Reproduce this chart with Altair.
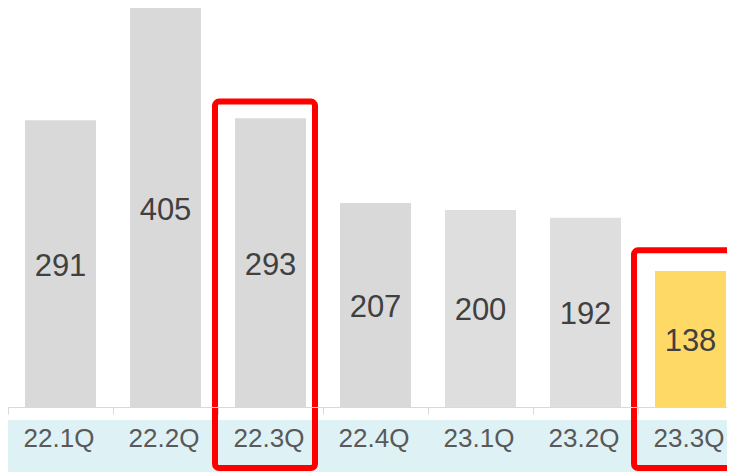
import altair as alt
import pandas as pd

quarters = ["22.1Q", "22.2Q", "22.3Q", "22.4Q", "23.1Q", "23.2Q", "23.3Q"]
values = [291, 405, 293, 207, 200, 192, 138]
bar_colors = ["#d9d9d9", "#d9d9d9", "#d9d9d9", "#d9d9d9", "#dedede", "#dedede", "#ffd966"]

box_quarters = ["22.3Q", "23.3Q"]
box_top = [310, 159]
box_bottom = [-62, -62]

df = pd.DataFrame({"q": quarters, "v": values, "c": bar_colors})
df["mid"] = df["v"] / 2
boxes = pd.DataFrame({"q": box_quarters, "top": box_top, "bot": box_bottom})

xscale = alt.Scale(domain=quarters, range=[0, 735], paddingInner=0, paddingOuter=0)
yscale = alt.Scale(domain=[0, 405], nice=False, zero=True)

band = alt.Chart(pd.DataFrame({"a": [0]})).mark_rect(color="#def2f6").encode(
    x=alt.value(-2), x2=alt.value(760), y=alt.value(412), y2=alt.value(480)
)

bars = alt.Chart(df).mark_bar(width=alt.RelativeBandSize(0.676)).encode(
    x=alt.X("q:N", scale=xscale, sort=quarters,
            axis=alt.Axis(title=None, labelAngle=0, domainColor="#d9d9d9", tickColor="#d9d9d9",
                          tickSize=7, tickBand="extent", labelFontSize=26, labelColor="#595959",
                          labelFont="Liberation Sans", labelPadding=32, labelBaseline="alphabetic",
                          labelOffset=-2, zindex=1, domainWidth=1, tickWidth=1)),
    y=alt.Y("v:Q", scale=yscale, axis=None),
    color=alt.Color("c:N", scale=None),
)

labels = alt.Chart(df).mark_text(font="Liberation Sans", fontSize=31, color="#404040",
                                 baseline="middle", dy=3).encode(
    x=alt.X("q:N", sort=quarters),
    y=alt.Y("mid:Q"),
    text=alt.Text("v:Q"),
)

box1 = alt.Chart(boxes[boxes["q"] == "22.3Q"]).mark_bar(
    width=100, xOffset=-5.5, fillOpacity=0, stroke="#ff0000", strokeWidth=6, cornerRadius=4
).encode(x=alt.X("q:N", sort=quarters), y=alt.Y("top:Q"), y2="bot:Q")

box2 = alt.Chart(boxes[boxes["q"] == "23.3Q"]).mark_bar(
    width=130, xOffset=8.5, fillOpacity=0, stroke="#ff0000", strokeWidth=6, cornerRadius=4
).encode(x=alt.X("q:N", sort=quarters), y=alt.Y("top:Q"), y2="bot:Q")

chart = alt.layer(band, bars, labels, box1, box2).properties(
    width=719, height=399,
    autosize=alt.AutoSizeParams(type="none"),
    padding={"left": 0, "top": 0, "right": 0, "bottom": 65},
).configure_view(stroke=None)

chart.save("out.html", embed_options={"renderer": "svg", "actions": False})
